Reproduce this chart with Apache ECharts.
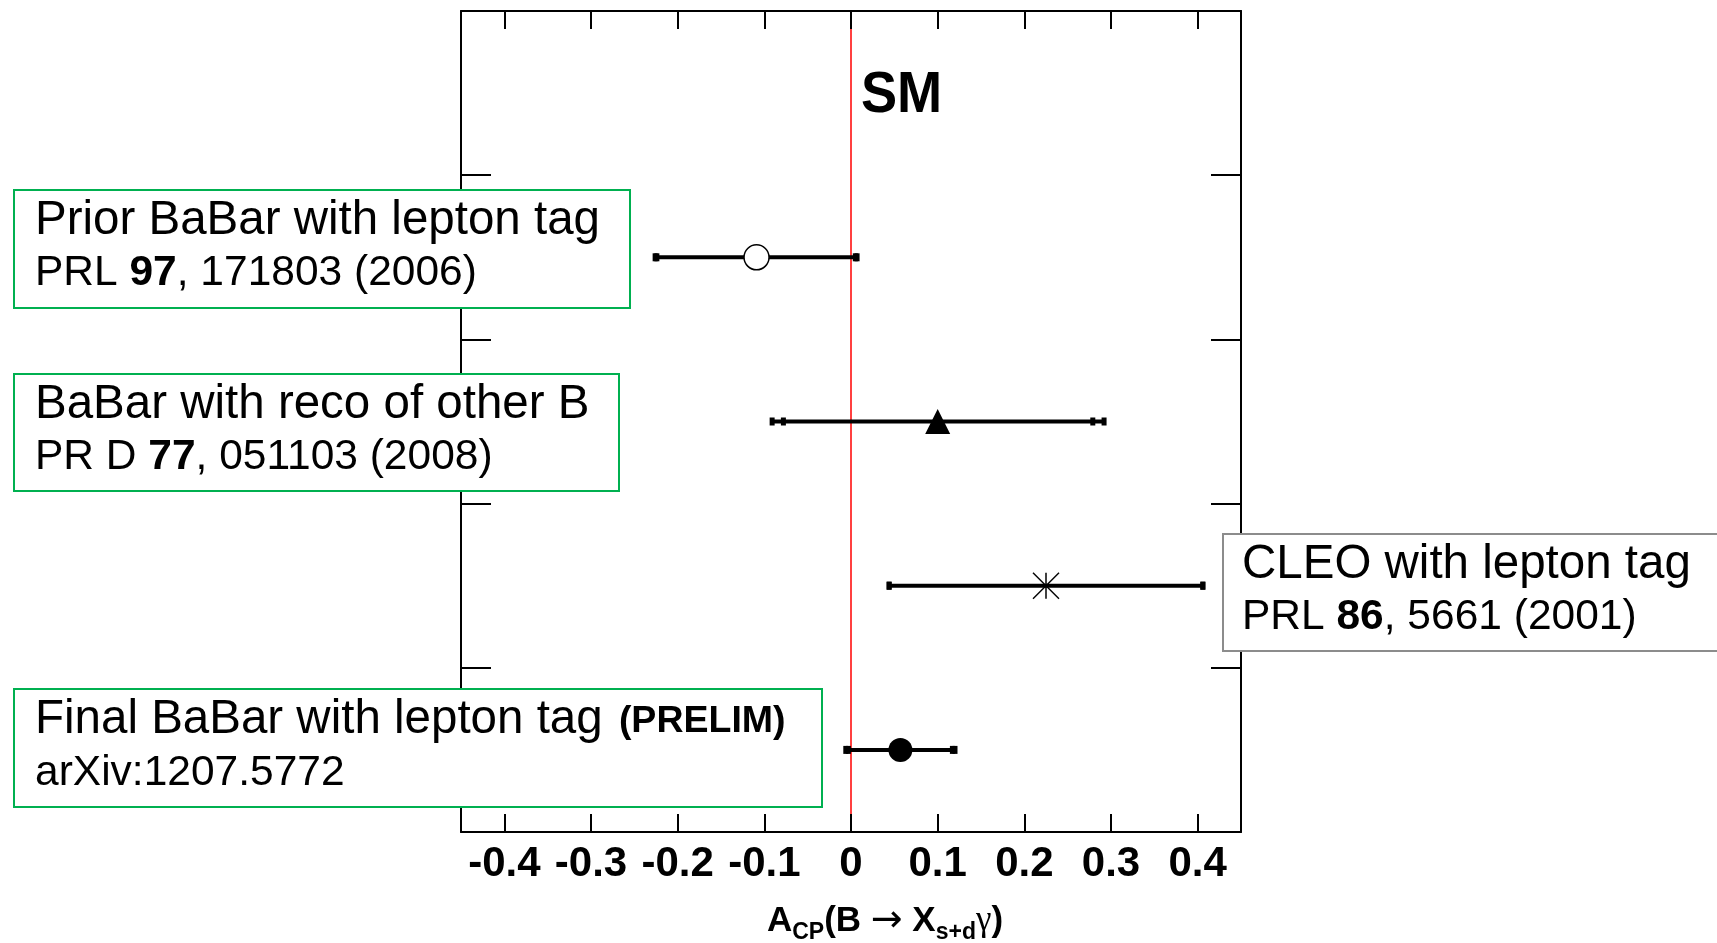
<!DOCTYPE html>
<html>
<head>
<meta charset="utf-8">
<title>ACP(B -> Xs+d gamma)</title>
<script src="https://cdn.jsdelivr.net/npm/echarts@6.0.0/dist/echarts.min.js"></script>
<style>
  html, body { margin: 0; padding: 0; background: #fff; }
  #chart { width: 1717px; height: 943px; }
</style>
</head>
<body>
<div id="chart"></div>
<script>
// rows counted from the bottom of the frame
var rowNames = ['Final BaBar', 'CLEO', 'BaBar reco', 'Prior BaBar']
var rowPos = [0.5, 1.5, 2.5, 3.5]
var centralVals = [0.057, 0.225, 0.100, -0.109]
// inner (stat) and outer (total) error bar ends
var statLow = [-0.003, 0.044, -0.078, -0.224]
var statHigh = [0.117, 0.406, 0.279, 0.005]
var totLow = [-0.006, 0.044, -0.091, -0.226]
var totHigh = [0.120, 0.406, 0.292, 0.007]
var markerKinds = ['dot', 'star', 'triangle', 'ring']
var xTicks = [-0.4, -0.3, -0.2, -0.1, 0, 0.1, 0.2, 0.3, 0.4]
var yTicks = [1, 2, 3, 4]
var smValue = 0

var FONT = '"Liberation Sans", Arial, Helvetica, sans-serif'

var rows = centralVals.map(function (c, i) {
  return [c, rowPos[i], statLow[i], statHigh[i], totLow[i], totHigh[i]]
})

// 误差棒 + 标记
function drawRow(params, api) {
  var row = api.value(1)
  var mid = api.coord([api.value(0), row])
  var ends = [
    api.coord([api.value(2), row]), api.coord([api.value(3), row]),
    api.coord([api.value(4), row]), api.coord([api.value(5), row])
  ]
  var y = mid[1]
  var kids = [{
    type: 'line',
    shape: { x1: ends[2][0], y1: y, x2: ends[3][0], y2: y },
    style: { stroke: '#000', lineWidth: 4 }
  }]
  ends.forEach(function (p) {
    kids.push({ type: 'rect', shape: { x: p[0] - 2.5, y: y - 4, width: 5, height: 8 }, style: { fill: '#000' } })
  })
  var kind = markerKinds[params.dataIndex]
  var cx = mid[0]
  if (kind === 'ring') {
    kids.push({ type: 'circle', shape: { cx: cx, cy: y, r: 12.5 }, style: { fill: '#fff', stroke: '#000', lineWidth: 1.5 } })
  } else if (kind === 'dot') {
    kids.push({ type: 'circle', shape: { cx: cx, cy: y, r: 12 }, style: { fill: '#000' } })
  } else if (kind === 'triangle') {
    kids.push({ type: 'polygon', shape: { points: [[cx, y - 12.5], [cx - 12.5, y + 12.5], [cx + 12.5, y + 12.5]] }, style: { fill: '#000' } })
  } else if (kind === 'star') {
    var h = 13
    ;[[-h, -h, h, h], [-h, h, h, -h], [0, -h, 0, h], [-h, 0, h, 0]].forEach(function (s) {
      kids.push({ type: 'line', shape: { x1: cx + s[0], y1: y + s[1], x2: cx + s[2], y2: y + s[3] }, style: { stroke: '#000', lineWidth: 1.5 } })
    })
  }
  return { type: 'group', children: kids }
}

function box(x, y, w, h, color) {
  return { type: 'rect', z: 100, shape: { x: x, y: y, width: w, height: h }, style: { fill: '#fff', stroke: color, lineWidth: 2 } }
}
function label(x, y, text, size, extraRich) {
  var rich = {
    n: { fontSize: size, fontFamily: FONT, fill: '#000' },
    b: { fontSize: size, fontFamily: FONT, fontWeight: 'bold', fill: '#000' }
  }
  if (extraRich) Object.assign(rich, extraRich)
  return {
    type: 'text', z: 101, x: x, y: y,
    style: { text: text, fontSize: size, fontFamily: FONT, fill: '#000', align: 'left', verticalAlign: 'middle', rich: rich }
  }
}

var GREEN = '#00B050'
var GREY = '#8C8C8C'
var L1 = 47.5
var L2 = 42.5

var xAxisBase = {
  type: 'value', min: -0.45, max: 0.45, z: 3,
  axisLine: { show: true, onZero: false, lineStyle: { color: '#000', width: 2 } },
  axisTick: { show: true, inside: true, length: 18, customValues: xTicks, lineStyle: { color: '#000', width: 2 } },
  splitLine: { show: false }
}
var yAxisBase = {
  type: 'value', min: 0, max: 5, z: 3,
  axisLine: { show: true, onZero: false, lineStyle: { color: '#000', width: 2 } },
  axisTick: { show: true, inside: true, length: 30, customValues: yTicks, lineStyle: { color: '#000', width: 2 } },
  axisLabel: { show: false },
  splitLine: { show: false }
}

var option = {
  animation: false,
  backgroundColor: '#fff',
  grid: { left: 461, right: 476, top: 11, bottom: 111, containLabel: false, outerBoundsMode: 'none' },
  xAxis: [
    Object.assign({}, xAxisBase, {
      position: 'bottom',
      axisLabel: { show: true, customValues: xTicks, margin: 11, fontSize: 42, fontWeight: 'bold', fontFamily: FONT, color: '#000' }
    }),
    Object.assign({}, xAxisBase, { position: 'top', axisLabel: { show: false } })
  ],
  yAxis: [
    Object.assign({}, yAxisBase, { position: 'left' }),
    Object.assign({}, yAxisBase, { position: 'right' })
  ],
  series: [
    {
      // SM 红线
      type: 'line', z: 1, silent: true, symbol: 'none',
      data: [[smValue, 0], [smValue, 5]],
      lineStyle: { color: '#ff0000', width: 1.5 }
    },
    {
      type: 'custom', z: 4, silent: true,
      renderItem: drawRow,
      encode: { x: 0, y: 1 },
      data: rows
    }
  ],
  graphic: [
    { type: 'text', z: 50, x: 861, y: 96, scaleX: 0.95,
      style: { text: 'SM', fontSize: 57, fontWeight: 'bold', fontFamily: FONT, fill: '#000', align: 'left', verticalAlign: 'middle' } },
    // axis title
    { type: 'text', z: 50, x: 885, y: 921,
      style: {
        text: '{a|A}{s|CP}{a|(B }{r|→}{a| X}{s|s+d}{g|γ}{a|)}',
        align: 'center', verticalAlign: 'middle',
        rich: {
          a: { fontSize: 35, fontWeight: 'bold', fontFamily: FONT, fill: '#000', lineHeight: 46 },
          s: { fontSize: 23, fontWeight: 'bold', fontFamily: FONT, fill: '#000', lineHeight: 46, verticalAlign: 'bottom' },
          r: { fontSize: 38, fontFamily: '"DejaVu Sans", sans-serif', fill: '#000', lineHeight: 46 },
          g: { fontSize: 35, fontFamily: '"Liberation Serif", serif', fill: '#000', lineHeight: 46 }
        }
      } },
    box(14, 190, 616, 118, GREEN),
    label(35, 221, 'Prior BaBar with lepton tag', L1),
    label(35, 273, '{n|PRL }{b|97}{n|, 171803 (2006)}', L2),
    box(14, 374, 605, 117, GREEN),
    label(35, 405, 'BaBar with reco of other B', L1),
    label(35, 457, '{n|PR D }{b|77}{n|, 051103 (2008)}', L2),
    box(1223, 534, 520, 117, GREY),
    label(1242, 565, 'CLEO with lepton tag', L1),
    label(1242, 617, '{n|PRL }{b|86}{n|, 5661 (2001)}', L2),
    box(14, 689, 808, 118, GREEN),
    label(35, 720, '{n|Final BaBar with lepton tag }{p|(PRELIM)}', L1, {
      p: { fontSize: 37.5, fontWeight: 'bold', fontFamily: FONT, fill: '#000', verticalAlign: 'bottom', padding: [0, 0, 3, 3] }
    }),
    label(35, 773, 'arXiv:1207.5772', L2)
  ]
}

var chart = echarts.init(document.getElementById('chart'))
chart.setOption(option)
</script>
</body>
</html>
